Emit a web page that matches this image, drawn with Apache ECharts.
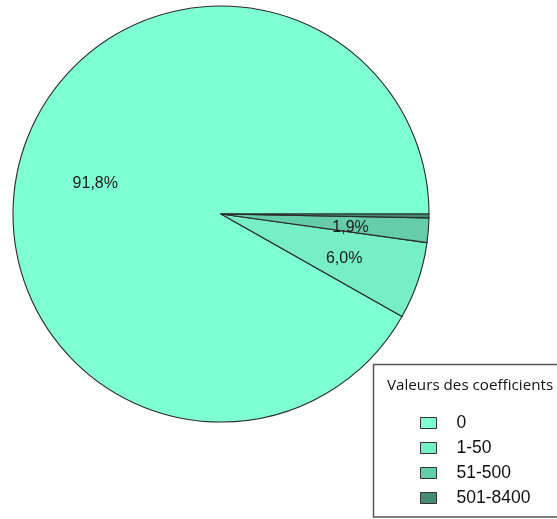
<!DOCTYPE html>
<html>
<head>
<meta charset="utf-8">
<style>
  html, body { margin: 0; padding: 0; background: #fff; }
  #chart { width: 557px; height: 519px; }
</style>
<script src="https://cdn.jsdelivr.net/npm/echarts@6/dist/echarts.min.js"></script>
</head>
<body>
<div id="chart"></div>
<script>
// Share of coefficients by value class (percent)
const categories = ['0', '1-50', '51-500', '501-8400'];
const shares = [91.8, 6.0, 1.9, 0.3];
const sliceColors = ['#7FFFD4', '#76EEC6', '#66CDAA', '#458B74'];
const legendTitle = 'Valeurs des coefficients';
// slices too thin to carry a percentage label
const unlabelled = ['501-8400'];

const fmtPct = v => v.toFixed(1).replace('.', ',') + '%';

const pieCenter = [221, 214];
const pieRadius = 208;

const sliceData = categories.map((name, i) => ({
  name: name,
  value: shares[i],
  itemStyle: { color: sliceColors[i] }
}));

// Label carrier: same angles, transparent ring so labels sit further out
const labelData = categories.map((name, i) => ({
  name: name,
  value: shares[i],
  label: { show: unlabelled.indexOf(name) < 0 }
}));

const chart = echarts.init(document.getElementById('chart'), null, { renderer: 'canvas' });

chart.setOption({
  backgroundColor: '#ffffff',
  animation: false,
  graphic: [{
    type: 'rect',
    z: 0,
    shape: { x: 373.5, y: 364.5, width: 200, height: 152.5 },
    style: { fill: '#ffffff', stroke: '#555555', lineWidth: 1.5 }
  }],
  title: {
    text: legendTitle,
    left: 387,
    top: 378,
    padding: 0,
    textStyle: {
      fontFamily: 'Open Sans',
      fontSize: 15.2,
      fontWeight: 'normal',
      color: '#111'
    }
  },
  legend: {
    data: categories,
    orient: 'vertical',
    left: 420,
    top: 414,
    padding: 0,
    icon: 'rect',
    itemWidth: 16,
    itemHeight: 11,
    itemGap: 7,
    selectedMode: false,
    itemStyle: { borderColor: '#333', borderWidth: 1 },
    textStyle: {
      fontFamily: 'Liberation Sans',
      fontSize: 17.5,
      lineHeight: 17,
      color: '#111',
      padding: [0, 0, 0, 15]
    }
  },
  series: [
    {
      type: 'pie',
      center: pieCenter,
      radius: [0, pieRadius],
      startAngle: 0,
      clockwise: false,
      minAngle: 0,
      avoidLabelOverlap: false,
      silent: true,
      label: { show: false },
      labelLine: { show: false },
      itemStyle: { borderColor: '#2a2a2a', borderWidth: 1.1 },
      emphasis: { disabled: true },
      data: sliceData
    },
    {
      type: 'pie',
      center: pieCenter,
      radius: [46, pieRadius],
      startAngle: 0,
      clockwise: false,
      minAngle: 0,
      avoidLabelOverlap: false,
      silent: true,
      itemStyle: { color: 'rgba(0,0,0,0)', borderWidth: 0 },
      emphasis: { disabled: true },
      labelLine: { show: false },
      label: {
        show: true,
        position: 'inside',
        offset: [0, 3],
        formatter: p => fmtPct(p.value),
        fontFamily: 'Liberation Sans',
        fontSize: 16,
        color: '#1a1a1a'
      },
      data: labelData
    }
  ]
});
</script>
</body>
</html>
